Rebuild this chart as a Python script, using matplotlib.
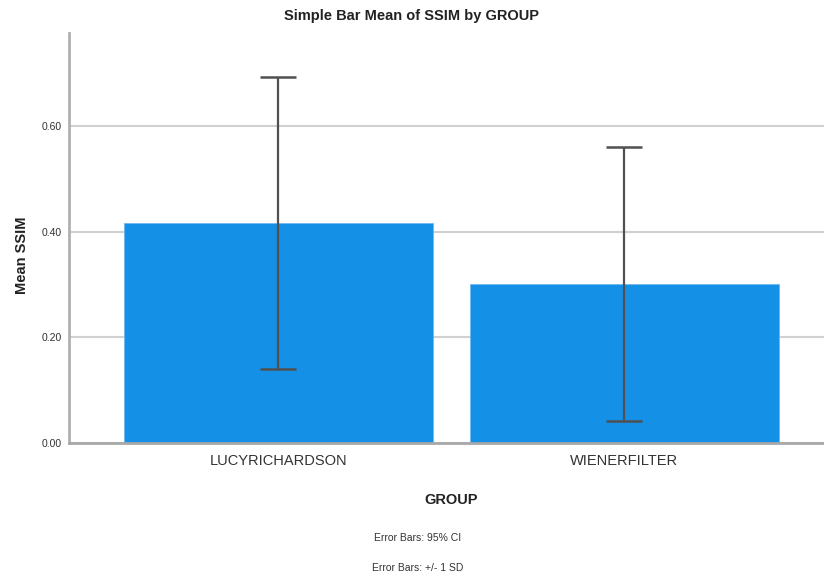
import matplotlib
matplotlib.use("Agg")
import matplotlib.pyplot as plt

groups = ["LUCYRICHARDSON", "WIENERFILTER"]
mean_ssim = [0.416, 0.301]
err_upper = [0.693, 0.561]
err_lower = [0.140, 0.042]
yticks = [0.0, 0.2, 0.4, 0.6]

plt.rcParams["font.family"] = ["Liberation Sans", "DejaVu Sans"]

fig = plt.figure(figsize=(8.24, 5.80), dpi=100)
ax = fig.add_axes([0.0837, 0.2362, 0.9163, 0.7069])

x = list(range(len(groups)))
ax.bar(x, mean_ssim, width=0.893, color="#1490e6", edgecolor="#6fb8ef",
       linewidth=0.6, zorder=2)
yerr = [[m - lo for m, lo in zip(mean_ssim, err_lower)],
        [hi - m for m, hi in zip(mean_ssim, err_upper)]]
ax.errorbar(x, mean_ssim, yerr=yerr, fmt="none", ecolor="#505050",
            elinewidth=1.6, capsize=13.3, capthick=1.8, zorder=3)

ax.set_xlim(-0.6055, 1.577)
ax.set_ylim(0, 0.776)
ax.set_yticks(yticks)
ax.set_yticklabels([f"{t:.2f}" for t in yticks], fontsize=7.5, color="#333333")
ax.set_xticks(x)
ax.set_xticklabels(groups, fontsize=10.5, color="#333333")
ax.tick_params(axis="both", length=0, pad=5)
ax.tick_params(axis="x", pad=8)
ax.yaxis.grid(True, color="#d0d0d0", linewidth=1.5, zorder=0)
ax.set_axisbelow(True)
for s in ["top", "right"]:
    ax.spines[s].set_visible(False)
ax.spines["left"].set_color("#b0b0b0")
ax.spines["left"].set_linewidth(2)
ax.spines["bottom"].set_color("#a8a8a8")
ax.spines["bottom"].set_linewidth(2)

fig.text(0.5, 0.972, "Simple Bar Mean of SSIM by GROUP", ha="center",
         va="center", fontsize=10.5, fontweight="bold", color="#222222")
fig.text(0.027, 0.56, "Mean SSIM", rotation=90, ha="center", va="center",
         fontsize=10.5, fontweight="bold", color="#222222")
fig.text(0.548, 0.138, "GROUP", ha="center", va="center", fontsize=10.5,
         fontweight="bold", color="#222222")
fig.text(0.507, 0.072, "Error Bars: 95% CI", ha="center", va="center",
         fontsize=7.5, color="#333333")
fig.text(0.507, 0.020, "Error Bars: +/- 1 SD", ha="center", va="center",
         fontsize=7.5, color="#333333")

fig.savefig("out.png", dpi=100)
